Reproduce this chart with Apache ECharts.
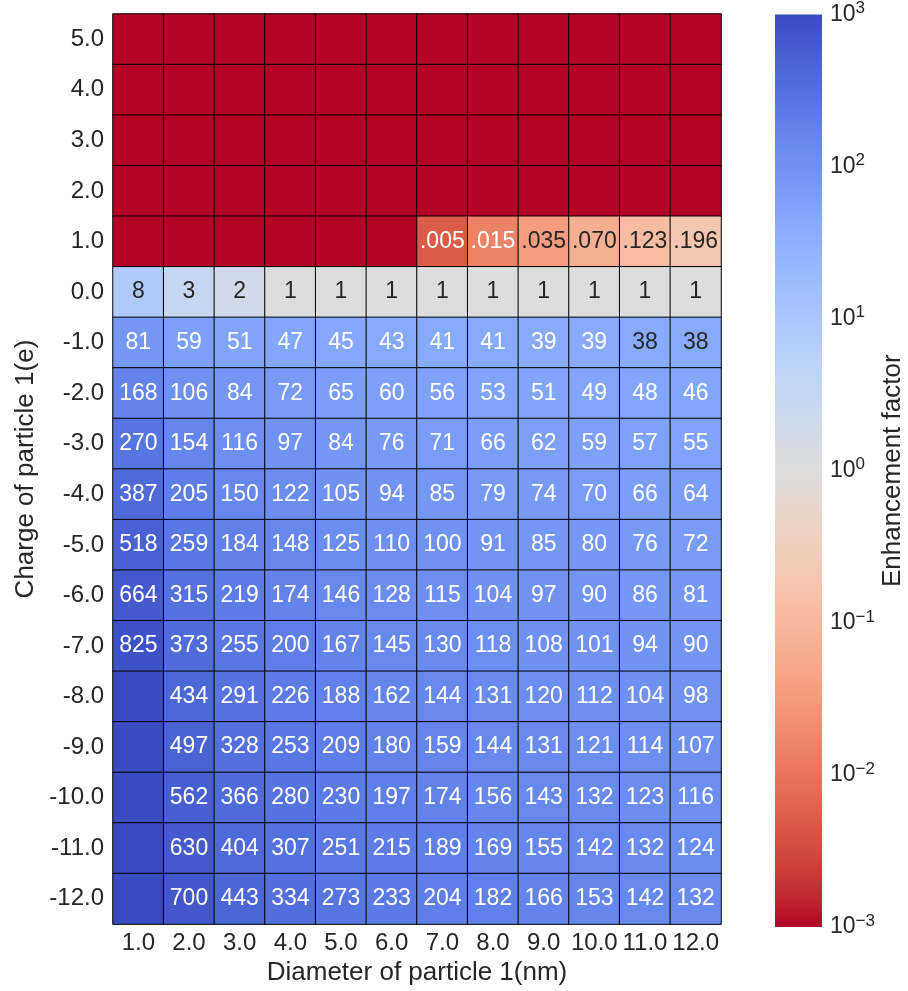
<!DOCTYPE html>
<html><head><meta charset="utf-8">
<script src="https://cdn.jsdelivr.net/npm/echarts@6/dist/echarts.min.js"></script>
<style>html,body{margin:0;padding:0;background:#fff}#c{width:908px;height:991px}</style>
</head><body><div id="c"></div>
<script>
// Column categories: diameter of particle 1 (nm)
const diameters = ['1.0','2.0','3.0','4.0','5.0','6.0','7.0','8.0','9.0','10.0','11.0','12.0'];
// Row categories: charge of particle 1 (e), top to bottom
const charges = ['5.0','4.0','3.0','2.0','1.0','0.0','-1.0','-2.0','-3.0','-4.0','-5.0','-6.0','-7.0','-8.0','-9.0','-10.0','-11.0','-12.0'];
// Enhancement factor per row (0 = below 1e-3, 1000 = at/above 1e3; both shown unlabelled)
const row_p5  = [0,0,0,0,0,0,0,0,0,0,0,0];
const row_p4  = [0,0,0,0,0,0,0,0,0,0,0,0];
const row_p3  = [0,0,0,0,0,0,0,0,0,0,0,0];
const row_p2  = [0,0,0,0,0,0,0,0,0,0,0,0];
const row_p1  = [0,0,0,0,0,0,0.005,0.015,0.035,0.070,0.123,0.196];
const row_0   = [8,3,2,1,1,1,1,1,1,1,1,1];
const row_m1  = [81,59,51,47,45,43,41,41,39,39,38,38];
const row_m2  = [168,106,84,72,65,60,56,53,51,49,48,46];
const row_m3  = [270,154,116,97,84,76,71,66,62,59,57,55];
const row_m4  = [387,205,150,122,105,94,85,79,74,70,66,64];
const row_m5  = [518,259,184,148,125,110,100,91,85,80,76,72];
const row_m6  = [664,315,219,174,146,128,115,104,97,90,86,81];
const row_m7  = [825,373,255,200,167,145,130,118,108,101,94,90];
const row_m8  = [1000,434,291,226,188,162,144,131,120,112,104,98];
const row_m9  = [1000,497,328,253,209,180,159,144,131,121,114,107];
const row_m10 = [1000,562,366,280,230,197,174,156,143,132,123,116];
const row_m11 = [1000,630,404,307,251,215,189,169,155,142,132,124];
const row_m12 = [1000,700,443,334,273,233,204,182,166,153,142,132];
const rows = [row_p5,row_p4,row_p3,row_p2,row_p1,row_0,row_m1,row_m2,row_m3,row_m4,row_m5,row_m6,row_m7,row_m8,row_m9,row_m10,row_m11,row_m12];
// Colour bar tick exponents (10^n)
const cbarExponents = [-3,-2,-1,0,1,2,3];

// matplotlib "coolwarm" (blue -> red)
const coolwarm = ['#3b4cc0','#445acc','#4d68d7','#5775e1','#6282ea','#6c8ff1','#779af7','#82a6fb','#8db0fe','#98b9ff','#a3c2fe','#aec9fc','#b8d0f9','#c2d5f4','#ccd9ee','#d5dbe5','#dddddd','#e5d8d1','#ecd3c5','#f1ccb9','#f5c4ad','#f7bba0','#f7b194','#f7a688','#f49a7b','#f18d6f','#ec7f63','#e57058','#de604d','#d55042','#cb3e38','#c0282f','#b40426'];

const LMIN = cbarExponents[0], LMAX = cbarExponents[cbarExponents.length-1];
const data = [];
rows.forEach((r, yi) => r.forEach((v, xi) => {
  let lv = v > 0 ? Math.log10(v) : LMIN;
  lv = Math.max(LMIN, Math.min(LMAX, lv));
  let label = '';
  if (v >= 0.001 && v < 1000) label = v < 1 ? v.toFixed(3).replace(/^0/, '') : String(Math.round(v));
  const dark = v > 0.02 && v < 38.5;
  data.push({value: [xi, yi, lv, v], label: {formatter: label, color: dark ? '#262626' : '#ffffff'}});
}));

const FONT = '"Liberation Sans", Arial, Helvetica, sans-serif';
const TXT = '#262626';
const chart = echarts.init(document.getElementById('c'), null, {renderer: 'canvas'});
chart.setOption({
  animation: false,
  backgroundColor: '#ffffff',
  textStyle: {fontFamily: FONT},
  grid: [
    {left: 113, top: 14, width: 608, height: 913},
    {left: 775, top: 14, width: 47, height: 913}
  ],
  xAxis: [
    {type: 'category', gridIndex: 0, data: diameters, position: 'bottom',
     axisLine: {show: false}, axisTick: {show: false}, splitLine: {show: false},
     axisLabel: {color: TXT, fontSize: 24, fontFamily: FONT, margin: 7, interval: 0},
     name: 'Diameter of particle 1(nm)', nameLocation: 'middle', nameGap: 32,
     nameTextStyle: {color: TXT, fontSize: 26, fontFamily: FONT}},
    {type: 'category', gridIndex: 1, data: ['cb'], show: false}
  ],
  yAxis: [
    {type: 'category', gridIndex: 0, data: charges, inverse: true,
     axisLine: {show: false}, axisTick: {show: false}, splitLine: {show: false},
     axisLabel: {color: TXT, fontSize: 24, fontFamily: FONT, margin: 9, interval: 0},
     name: 'Charge of particle 1(e)', nameLocation: 'middle', nameGap: 72, nameRotate: 90,
     nameTextStyle: {color: TXT, fontSize: 26, fontFamily: FONT}},
    {type: 'value', gridIndex: 1, position: 'right', min: 0, max: LMAX - LMIN, interval: 1,
     axisLine: {show: false}, axisTick: {show: false}, splitLine: {show: false},
     axisLabel: {color: TXT, fontSize: 23, fontFamily: FONT, margin: 8,
       formatter: v => '10{sup|' + (v + LMIN < 0 ? '\u2212' + Math.abs(v + LMIN) : (v + LMIN)) + '}',
       rich: {sup: {fontSize: 17, verticalAlign: 'top', padding: [0,0,12,0], color: TXT, fontFamily: FONT}}},
     name: 'Enhancement factor', nameLocation: 'middle', nameGap: 58, nameRotate: 90,
     nameTextStyle: {color: TXT, fontSize: 26, fontFamily: FONT}}
  ],
  visualMap: {show: false, type: 'continuous', min: LMIN, max: LMAX, dimension: 2, seriesIndex: 0,
    inRange: {color: coolwarm.slice().reverse()}},
  series: [
    {type: 'heatmap', xAxisIndex: 0, yAxisIndex: 0, data: data,
     itemStyle: {borderColor: '#000000', borderWidth: 1},
     label: {show: true, fontSize: 23, fontFamily: FONT},
     emphasis: {disabled: true}},
    {type: 'bar', xAxisIndex: 1, yAxisIndex: 1, data: [LMAX - LMIN], barWidth: '100%',
     itemStyle: {color: new echarts.graphic.LinearGradient(0, 0, 0, 1,
       coolwarm.map((c, i) => ({offset: i / (coolwarm.length - 1), color: c})))},
     emphasis: {disabled: true}, silent: true}
  ]
});
</script></body></html>
